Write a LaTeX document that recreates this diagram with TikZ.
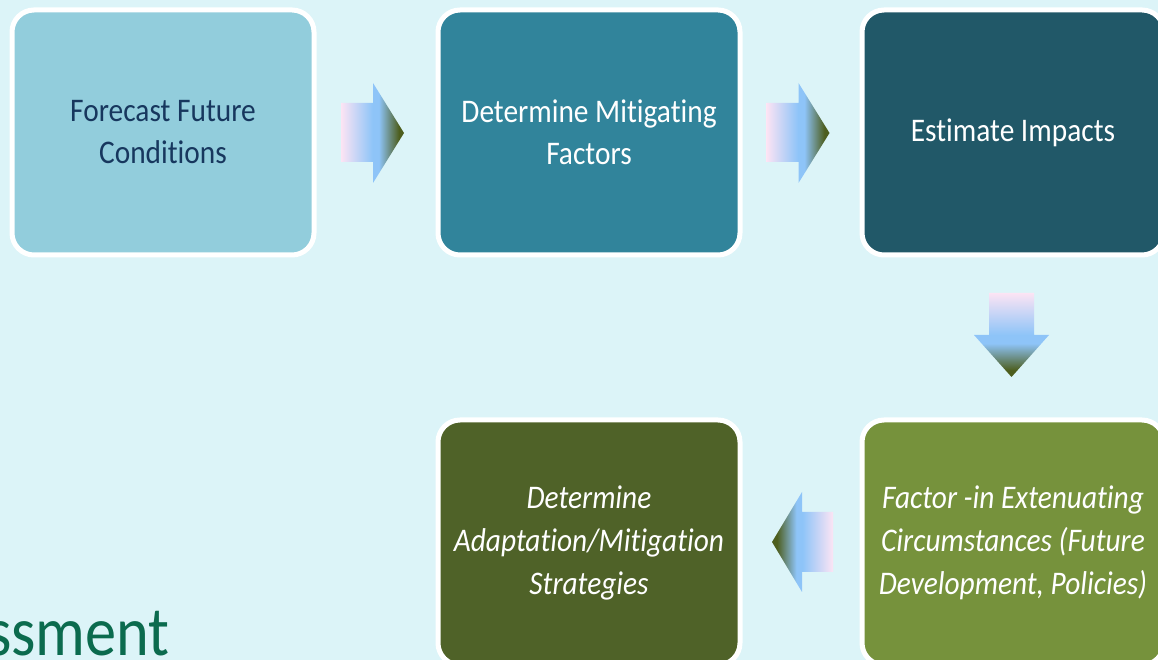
\documentclass[tikz,border=0pt]{standalone}
\usepackage{fontspec}
\setmainfont[FakeStretch=0.89, Ligatures=NoCommon]{Carlito}
\definecolor{bg}{HTML}{DCF4F8}
\definecolor{cA}{HTML}{92CDDC}
\definecolor{cB}{HTML}{31849B}
\definecolor{cC}{HTML}{215868}
\definecolor{cD}{HTML}{76923C}
\definecolor{cE}{HTML}{4F6228}
\definecolor{navy}{HTML}{17375E}
\definecolor{titlegreen}{HTML}{0B6B4E}
\definecolor{apink}{HTML}{FCE4F4}
\definecolor{ablue}{HTML}{8EC4F8}
\definecolor{aolive}{HTML}{4D5E1E}
\pgfdeclarehorizontalshading{arrowR}{100bp}{color(0bp)=(apink); color(25bp)=(apink); color(50bp)=(ablue); color(55bp)=(ablue); color(71bp)=(aolive); color(100bp)=(aolive)}
\pgfdeclarehorizontalshading{arrowL}{100bp}{color(0bp)=(aolive); color(29bp)=(aolive); color(45bp)=(ablue); color(50bp)=(ablue); color(75bp)=(apink); color(100bp)=(apink)}
\pgfdeclareverticalshading{arrowD}{100bp}{color(0bp)=(aolive); color(29bp)=(aolive); color(45bp)=(ablue); color(50bp)=(ablue); color(75bp)=(apink); color(100bp)=(apink)}
\begin{document}
\begin{tikzpicture}[x=1pt,y=1pt,
  box/.style={draw=white, line width=5pt, rounded corners=22pt,
    minimum width=302pt, minimum height=245pt, inner sep=0pt,
    align=center, font=\fontsize{33}{42}\selectfont},
  boxi/.style={box, font=\fontsize{33}{43}\selectfont\itshape}]
\useasboundingbox (0,0) rectangle (1158,660);
\fill[bg] (0,0) rectangle (1158,660);
\begin{scope}
\clip (0,0) rectangle (1158,660);
\node[box, fill=cA, text=navy] (b1) at (163,527.5) {Forecast Future\\Conditions};
\node[box, fill=cB, text=white] (b2) at (589,527.5) {Determine Mitigating\\Factors};
\node[box, fill=cC, text=white] (b3) at (1013,527.5) {Estimate Impacts};
\node[boxi, fill=cD, text=white] (b4) at (1013,117.5) {Factor -in Extenuating\\Circumstances (Future\\Development, Policies)};
\node[boxi, fill=cE, text=white] (b5) at (589,117.5) {Determine\\Adaptation/Mitigation\\Strategies};
\node[font=\fontsize{70}{80}\selectfont, text=titlegreen, anchor=base west, inner sep=0pt] (title) at (-13,4) {ssment};
% block arrows
\shade[shading=arrowR] (341,557) -- (373,557) -- (373,577) -- (404,527) -- (373,477) -- (373,498) -- (341,498) -- cycle;
\shade[shading=arrowR] (766.5,557) -- (798.5,557) -- (798.5,577) -- (829.5,527) -- (798.5,477) -- (798.5,498) -- (766.5,498) -- cycle;
\shade[shading=arrowD] (989,367) -- (1034,367) -- (1034,325) -- (1049,325) -- (1011.5,283) -- (974,325) -- (989,325) -- cycle;
\shade[shading=arrowL] (833,148) -- (802,148) -- (802,168) -- (772,118) -- (802,68) -- (802,88) -- (833,88) -- cycle;
\end{scope}
\end{tikzpicture}
\end{document}
